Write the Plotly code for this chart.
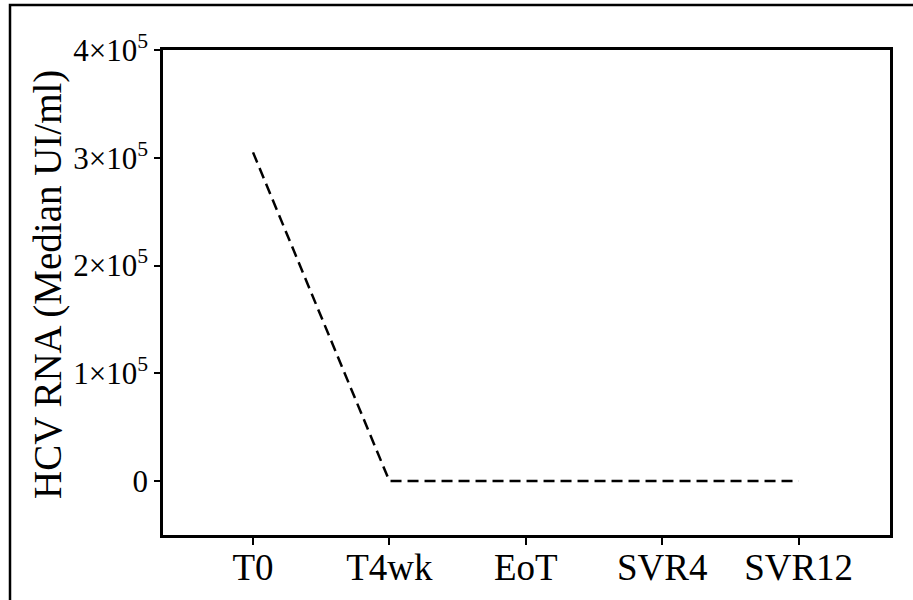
import plotly.graph_objects as go

# Time points and median viral load (IU/ml)
timepoints = ["T0", "T4wk", "EoT", "SVR4", "SVR12"]
median_rna = [305000, 0, 0, 0, 0]

# Y-axis ticks
y_tickvals = [0, 100000, 200000, 300000, 400000]
y_ticktext = ["0", "1×10<sup>5</sup>", "2×10<sup>5</sup>", "3×10<sup>5</sup>", "4×10<sup>5</sup>"]

W, H = 913, 600
ml, mr, mt, mb = 163, 23, 50, 65
pw, ph = W - ml - mr, H - mt - mb

fig = go.Figure()
fig.add_trace(go.Scatter(
    x=list(range(len(timepoints))),
    y=median_rna,
    mode="lines",
    line=dict(color="black", width=2.5, dash="11px,6px"),
    showlegend=False,
))

serif = "Liberation Serif, Times New Roman, serif"

fig.update_layout(
    width=W, height=H,
    margin=dict(l=ml, r=mr, t=mt, b=mb),
    paper_bgcolor="white",
    plot_bgcolor="white",
    font=dict(family=serif, color="black"),
    xaxis=dict(
        range=[-0.66, 4.67],
        tickmode="array",
        tickvals=list(range(len(timepoints))),
        ticktext=timepoints,
        tickfont=dict(size=37, family=serif, color="black"),
        ticks="outside", ticklen=7, tickwidth=2, tickcolor="black",
        ticklabelstandoff=-9,
        showline=True, linewidth=2.5, linecolor="black", mirror=True,
        showgrid=False, zeroline=False, automargin=False,
    ),
    yaxis=dict(
        range=[-50000, 400000],
        tickmode="array",
        tickvals=y_tickvals,
        ticktext=y_ticktext,
        tickfont=dict(size=31, family=serif, color="black"),
        ticks="outside", ticklen=6, tickwidth=2, tickcolor="black",
        showline=True, linewidth=2.5, linecolor="black", mirror=True,
        showgrid=False, zeroline=False, automargin=False,
    ),
    shapes=[dict(
        type="rect", xref="paper", yref="paper",
        x0=(10 - ml) / pw, x1=1.3,
        y0=-0.3, y1=1 + (mt - 5) / ph,
        line=dict(color="black", width=2.5),
        fillcolor="rgba(0,0,0,0)",
        layer="below",
    )],
    annotations=[dict(
        text="HCV RNA (Median UI/ml)",
        xref="paper", yref="paper",
        x=(48 - ml) / pw, y=1 - (285 - mt) / ph,
        xanchor="center", yanchor="middle",
        textangle=-90, showarrow=False,
        font=dict(size=39, family=serif, color="black"),
    )],
)

fig.write_html("out.html")
